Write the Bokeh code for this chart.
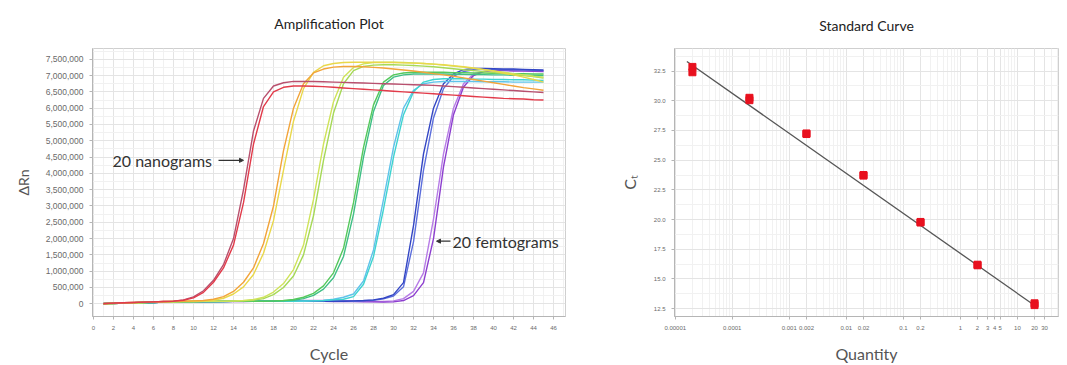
from bokeh.plotting import figure
from bokeh.models import (FixedTicker, NumeralTickFormatter, Range1d, Label, Arrow, NormalHead)
from bokeh.layouts import row
from bokeh.embed import file_html
from bokeh.resources import INLINE

# ---------------- Amplification plot data (delta Rn, millions) ----------------
cycles = list(range(1, 46))

red_a = [0.00,0.02,0.03,0.04,0.05,0.06,0.07,0.08,
         0.11,0.18,0.35,0.66,1.10,1.80,3.10,4.90,6.05,6.50,6.64,6.68,
         6.68,6.67,6.66,6.64,6.62,6.60,6.58,6.56,6.54,6.52,6.50,6.48,6.46,6.44,6.42,
         6.40,6.38,6.36,6.34,6.32,6.30,6.29,6.28,6.26,6.25]
red_b = [0.01,0.02,0.03,0.04,0.05,0.06,0.07,0.08,
         0.12,0.21,0.40,0.72,1.20,2.00,3.50,5.30,6.30,6.68,6.78,6.82,
         6.82,6.82,6.81,6.80,6.79,6.78,6.77,6.76,6.75,6.74,6.73,6.72,6.71,6.70,6.68,
         6.66,6.64,6.62,6.60,6.58,6.56,6.54,6.52,6.50,6.48]
orange = [0.01,0.02,0.03,0.04,0.05,0.06,0.07,0.08,0.08,0.09,
          0.10,0.14,0.22,0.38,0.66,1.10,1.85,3.00,4.70,6.00,6.75,7.08,7.20,7.26,7.28,
          7.28,7.27,7.25,7.23,7.20,7.17,7.14,7.10,7.06,7.02,
          6.98,6.93,6.88,6.83,6.78,6.73,6.68,6.63,6.59,6.55]
yellow = [0.00,0.01,0.02,0.03,0.04,0.05,0.06,0.07,0.08,0.08,
          0.09,0.11,0.17,0.30,0.52,0.90,1.55,2.55,4.10,5.60,6.60,7.10,7.30,7.37,7.40,
          7.41,7.41,7.41,7.40,7.40,7.39,7.38,7.37,7.35,7.33,
          7.30,7.27,7.23,7.19,7.14,7.08,7.02,6.95,6.88,6.80]
ygreen_a = [0.00,0.01,0.02,0.03,0.04,0.05,0.06,0.06,0.07,0.07,0.08,0.08,
            0.08,0.09,0.10,0.13,0.20,0.36,0.62,1.05,1.80,3.20,4.90,6.20,6.95,7.25,7.36,7.40,
            7.41,7.41,7.40,7.39,7.37,7.35,7.32,7.29,7.26,7.22,7.18,7.14,7.10,7.06,7.02,6.98,6.95]
ygreen_b = [0.01,0.02,0.02,0.03,0.04,0.05,0.05,0.06,0.07,0.07,0.08,0.08,
            0.08,0.08,0.09,0.11,0.16,0.28,0.50,0.85,1.50,2.70,4.40,5.85,6.75,7.15,7.28,7.32,
            7.33,7.33,7.32,7.31,7.29,7.27,7.24,7.21,7.18,7.15,7.12,7.09,7.06,7.03,7.00,6.97,6.92]
green_a = [0.00,0.01,0.02,0.03,0.04,0.04,0.05,0.06,0.06,0.07,0.07,0.07,0.08,0.08,0.08,
           0.08,0.08,0.09,0.10,0.13,0.20,0.32,0.55,0.95,1.70,3.10,4.80,6.10,6.80,7.02,7.08,7.10,
           7.10,7.10,7.10,7.09,7.09,7.08,7.08,7.07,7.07,7.06,7.06,7.05,7.05]
green_b = [0.01,0.02,0.02,0.03,0.03,0.04,0.05,0.05,0.06,0.06,0.07,0.07,0.07,0.08,0.08,
           0.08,0.08,0.08,0.09,0.11,0.16,0.26,0.45,0.80,1.45,2.75,4.50,5.90,6.70,6.95,7.02,7.05,
           7.05,7.05,7.05,7.04,7.04,7.03,7.03,7.02,7.02,7.01,7.01,7.00,7.00]
cyan_a = [0.00,0.01,0.02,0.03,0.03,0.04,0.05,0.05,0.06,0.06,0.07,0.07,0.07,0.08,0.08,0.08,0.08,0.08,
          0.08,0.08,0.09,0.09,0.10,0.12,0.14,0.22,0.60,1.45,2.90,4.50,5.80,6.50,6.80,6.88,6.90,
          6.90,6.90,6.89,6.89,6.88,6.88,6.87,6.87,6.86,6.85]
cyan_b = [0.01,0.02,0.02,0.03,0.04,0.04,0.05,0.06,0.06,0.07,0.07,0.07,0.08,0.08,0.08,0.08,0.08,0.08,
          0.08,0.08,0.08,0.09,0.10,0.14,0.20,0.30,0.70,1.65,3.20,4.80,6.00,6.55,6.75,6.80,6.82,
          6.82,6.82,6.82,6.81,6.81,6.81,6.80,6.80,6.80,6.80]
blue_a = [0.00,0.01,0.02,0.03,0.03,0.04,0.05,0.05,0.06,0.06,0.07,0.07,0.07,0.08,0.08,
          0.08,0.08,0.08,0.08,0.08,0.08,0.08,
          0.08,0.08,0.08,0.09,0.10,0.12,0.17,0.28,0.65,2.40,4.60,6.00,6.75,7.05,7.18,7.22,7.22,
          7.21,7.20,7.20,7.19,7.18,7.17]
blue_b = [0.01,0.02,0.02,0.03,0.04,0.04,0.05,0.06,0.06,0.07,0.07,0.07,0.08,0.08,0.08,
          0.08,0.09,0.09,0.09,0.09,0.09,0.09,
          0.09,0.09,0.09,0.08,0.09,0.11,0.15,0.24,0.52,1.90,4.10,5.70,6.60,6.98,7.12,7.18,7.19,
          7.19,7.18,7.18,7.17,7.16,7.15]
purple_a = [0.00,0.01,0.02,0.03,0.03,0.04,0.05,0.05,0.06,0.06,0.06,0.07,0.07,0.07,0.07,
            0.08,0.08,0.08,0.08,0.08,0.08,0.08,0.08,0.07,0.07,0.07,0.06,
            0.06,0.05,0.06,0.10,0.25,0.65,2.00,4.20,5.80,6.65,7.00,7.12,7.15,
            7.15,7.14,7.14,7.13,7.12]
purple_b = [0.01,0.02,0.02,0.03,0.04,0.04,0.05,0.05,0.06,0.06,0.07,0.07,0.07,0.08,0.08,
            0.08,0.08,0.09,0.09,0.09,0.10,0.10,0.10,0.10,0.09,0.09,0.08,
            0.07,0.07,0.09,0.16,0.38,0.95,2.60,4.60,6.00,6.75,7.05,7.13,7.16,
            7.16,7.16,7.15,7.15,7.14]

curves = [purple_b, purple_a, blue_b, blue_a, cyan_b, cyan_a, green_b, green_a,
          ygreen_b, ygreen_a, yellow, orange, red_b, red_a]
curve_colors = ["#b77ce6", "#8d3fcf", "#5d6fdc", "#3346c4", "#5fc3ea", "#3fd3d0",
                "#3fbf86", "#55c95c", "#a6d957", "#cfe35a", "#e9d84a", "#f2a43a",
                "#b8506e", "#e23b4a"]

amp_yticks = [0, 500000, 1000000, 1500000, 2000000, 2500000, 3000000, 3500000,
              4000000, 4500000, 5000000, 5500000, 6000000, 6500000, 7000000, 7500000]
amp_xticks = list(range(0, 47, 2))

# ---------------- Standard curve data ----------------
quantity = [0.00002, 0.0002, 0.002, 0.02, 0.2, 2, 20]
ct_rep1 = [32.85, 30.25, 27.20, 23.70, 19.80, 16.20, 12.95]
ct_rep2 = [32.40, 30.05, 27.25, 23.75, 19.75, 16.15, 12.80]
fit_q = [0.000016, 21.0]
fit_ct = [33.3, 12.7]
q_ticks = [0.00001, 0.0001, 0.001, 0.002, 0.01, 0.02, 0.1, 0.2, 1, 2, 3, 4, 5, 10, 20, 30]
q_labels = ["0.00001", "0.0001", "0.001", "0.002", "0.01", "0.02", "0.1", "0.2",
            "1", "2", "3", "4", "5", "10", "20", "30"]
ct_ticks = [12.5, 15.0, 17.5, 20.0, 22.5, 25.0, 27.5, 30.0, 32.5]

FONT = "Lato"


def style(p, tick_size):
    p.outline_line_color = "#cfcfcf"
    p.background_fill_color = "white"
    p.border_fill_color = "white"
    p.title.align = "center"
    p.title.text_font = FONT
    p.title.text_font_size = "14px"
    p.title.text_font_style = "normal"
    p.title.text_color = "#222222"
    for ax in p.axis:
        ax.axis_line_color = "#b5b5b5"
        ax.major_tick_line_color = "#b5b5b5"
        ax.minor_tick_line_color = None
        ax.major_tick_out = 3
        ax.major_tick_in = 0
        ax.major_label_text_color = "#6a6a6a"
        ax.major_label_text_font = "Liberation Sans"
        ax.major_label_text_font_size = tick_size
        ax.axis_label_text_color = "#555555"
        ax.axis_label_text_font_style = "normal"
        ax.axis_label_text_font = FONT
        ax.axis_label_text_font_size = "16px"
    for g in (p.xgrid, p.ygrid):
        g.grid_line_color = "#e4e4e4"
        g.minor_grid_line_color = "#f1f1f1"


# ---------------- Left figure ----------------
p1 = figure(width=588, height=365, output_backend="svg", toolbar_location=None,
            title="Amplification Plot",
            x_range=Range1d(-0.1, 47.2), y_range=Range1d(-390000, 7830000),
            min_border_left=92, min_border_right=23, min_border_top=47, min_border_bottom=43)
style(p1, "6px")
p1.yaxis.major_label_text_font_size = "8.5px"
p1.title.standoff = 29
p1.title.vertical_align = "top"
p1.xaxis.ticker = FixedTicker(ticks=amp_xticks, minor_ticks=list(range(0, 48)))
p1.yaxis.ticker = FixedTicker(ticks=amp_yticks,
                              minor_ticks=[t + 250000 for t in amp_yticks])
p1.yaxis.formatter = NumeralTickFormatter(format="0,0")
p1.xaxis.axis_label = "Cycle"
p1.yaxis.axis_label = "ΔRn"
p1.xaxis.axis_label_standoff = 11
p1.yaxis.axis_label_standoff = 11
p1.yaxis.axis_label_text_font_size = "14px"

for vals, col in zip(curves, curve_colors):
    p1.line(cycles, [v * 1e6 for v in vals], line_color=col, line_width=1.4)

p1.add_layout(Label(x=1.9, y=4.4e6, text="20 nanograms", text_baseline="middle",
                    text_font=FONT, text_font_size="16px", text_color="#333333"))
p1.add_layout(Arrow(x_start=12.5, y_start=4.4e6, x_end=15.0, y_end=4.4e6,
                    line_color="#333333", line_width=1.2,
                    end=NormalHead(size=4, line_color="#333333", fill_color="#333333")))
p1.add_layout(Label(x=35.9, y=1.92e6, text="20 femtograms", text_baseline="middle",
                    text_font=FONT, text_font_size="16px", text_color="#333333"))
p1.add_layout(Arrow(x_start=35.7, y_start=1.92e6, x_end=34.3, y_end=1.92e6,
                    line_color="#333333", line_width=1.2,
                    end=NormalHead(size=4, line_color="#333333", fill_color="#333333")))

# ---------------- Right figure ----------------
p2 = figure(width=471, height=365, output_backend="svg", toolbar_location=None,
            title="Standard Curve", x_axis_type="log",
            x_range=Range1d(9.7e-6, 52.6), y_range=Range1d(11.84, 34.4),
            min_border_left=86, min_border_right=1, min_border_top=43, min_border_bottom=40)
style(p2, "6px")
p2.title.standoff = 26
p2.title.vertical_align = "top"
minor_q = [m * 10.0 ** e for e in range(-6, 2) for m in range(2, 10)]
p2.xaxis.ticker = FixedTicker(ticks=q_ticks, minor_ticks=minor_q)
p2.xaxis.major_label_overrides = {t: l for t, l in zip(q_ticks, q_labels)}
p2.yaxis.ticker = FixedTicker(ticks=ct_ticks, minor_ticks=[t + 1.25 for t in ct_ticks])
p2.yaxis.formatter = NumeralTickFormatter(format="0.0")
p2.xaxis.axis_label = "Quantity"
p2.yaxis.axis_label = "Cₜ"
p2.xaxis.axis_label_standoff = 11
p2.yaxis.axis_label_standoff = 12

p2.line(fit_q, fit_ct, line_color="#555555", line_width=1.3)
p2.scatter(quantity, ct_rep1, marker="square", size=7, color="#e8101e")
p2.scatter(quantity, ct_rep2, marker="square", size=7, color="#e8101e")

layout = row(p1, p2)
open("out.html", "w").write(file_html(layout, INLINE))
